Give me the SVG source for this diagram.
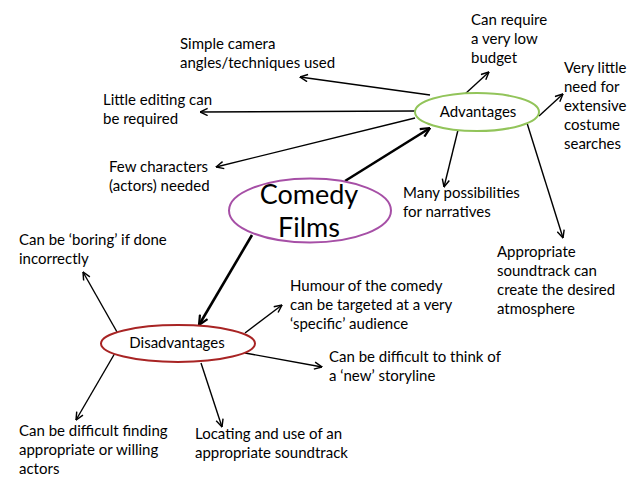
<svg xmlns="http://www.w3.org/2000/svg" width="638" height="479" viewBox="0 0 638 479">
<style>
text{font-family:Lato,"Open Sans","Liberation Sans",sans-serif;fill:#000}
.t{font-size:15px}
.arr{stroke:#000;stroke-width:1.4;fill:none;marker-end:url(#ah)}
.thick{stroke:#000;stroke-width:2.6;fill:none;marker-end:url(#ahb)}
</style>
<defs>
<marker id="ah" viewBox="0 0 10 10" refX="9.5" refY="5" markerWidth="9" markerHeight="9" markerUnits="userSpaceOnUse" orient="auto">
<path d="M1,1 L9.5,5 L1,9" fill="none" stroke="#000" stroke-width="1.6"/>
</marker>
<marker id="ahb" viewBox="0 0 10 10" refX="9.5" refY="5" markerWidth="11" markerHeight="11" markerUnits="userSpaceOnUse" orient="auto">
<path d="M1,1 L9.5,5 L1,9" fill="none" stroke="#000" stroke-width="2"/>
</marker>
</defs>
<rect width="638" height="479" fill="#fff"/>
<g id="connectors">
<line class="thick" x1="345" y1="181" x2="430" y2="128"/>
<line class="thick" x1="252" y1="235" x2="199" y2="325"/>
<line class="arr" x1="430" y1="95" x2="300" y2="77"/>
<line class="arr" x1="415" y1="111" x2="200" y2="112"/>
<line class="arr" x1="415" y1="118" x2="216" y2="167"/>
<line class="arr" x1="465" y1="94" x2="489" y2="72"/>
<line class="arr" x1="539" y1="116" x2="563" y2="94"/>
<line class="arr" x1="458" y1="130" x2="444" y2="187"/>
<line class="arr" x1="527" y1="123" x2="563" y2="238"/>
<line class="arr" x1="117" y1="332" x2="83" y2="272"/>
<line class="arr" x1="245" y1="333" x2="282" y2="305"/>
<line class="arr" x1="245" y1="353" x2="322" y2="367"/>
<line class="arr" x1="201" y1="363" x2="222" y2="427"/>
<line class="arr" x1="115" y1="353" x2="76" y2="420"/>
</g>
<g id="comedy-films">
<ellipse cx="310" cy="210.5" rx="81" ry="32" fill="#fff" stroke="#a64fa6" stroke-width="2"/>
<text x="309" y="204" font-size="27" text-anchor="middle">Comedy</text>
<text x="309" y="237" font-size="27" text-anchor="middle">Films</text>
</g>
<g id="advantages">
<ellipse cx="477" cy="112" rx="62" ry="19" fill="#fff" stroke="#92c45a" stroke-width="2"/>
<text class="t" x="478" y="117" text-anchor="middle">Advantages</text>
</g>
<g id="disadvantages">
<ellipse cx="178" cy="343.5" rx="77" ry="18.5" fill="#fff" stroke="#a82424" stroke-width="2"/>
<text class="t" x="177" y="348" text-anchor="middle">Disadvantages</text>
</g>
<g id="simple-camera"><text class="t" x="180"><tspan x="180" y="49">Simple camera</tspan><tspan x="180" y="68">angles/techniques used</tspan></text></g>
<g id="low-budget"><text class="t" x="471"><tspan x="471" y="25">Can require</tspan><tspan x="471" y="44">a very low</tspan><tspan x="471" y="63">budget</tspan></text></g>
<g id="costume"><text class="t" x="564"><tspan x="564" y="73">Very little</tspan><tspan x="564" y="92">need for</tspan><tspan x="564" y="111">extensive</tspan><tspan x="564" y="130">costume</tspan><tspan x="564" y="149">searches</tspan></text></g>
<g id="little-editing"><text class="t" x="103"><tspan x="103" y="105">Little editing can</tspan><tspan x="103" y="124">be required</tspan></text></g>
<g id="few-characters"><text class="t" x="109"><tspan x="109" y="172">Few characters</tspan><tspan x="109" y="191">(actors) needed</tspan></text></g>
<g id="narratives"><text class="t" x="403"><tspan x="403" y="198">Many possibilities</tspan><tspan x="403" y="217">for narratives</tspan></text></g>
<g id="soundtrack-adv"><text class="t" x="497"><tspan x="497" y="257">Appropriate</tspan><tspan x="497" y="276">soundtrack can</tspan><tspan x="497" y="295">create the desired</tspan><tspan x="497" y="314">atmosphere</tspan></text></g>
<g id="boring"><text class="t" x="19"><tspan x="19" y="245">Can be ‘boring’ if done</tspan><tspan x="19" y="264">incorrectly</tspan></text></g>
<g id="humour"><text class="t" x="290"><tspan x="290" y="291">Humour of the comedy</tspan><tspan x="290" y="310">can be targeted at a very</tspan><tspan x="290" y="329">‘specific’ audience</tspan></text></g>
<g id="storyline"><text class="t" x="329"><tspan x="329" y="362">Can be difficult to think of</tspan><tspan x="329" y="381">a ‘new’ storyline</tspan></text></g>
<g id="actors"><text class="t" x="19"><tspan x="19" y="436">Can be difficult finding</tspan><tspan x="19" y="455">appropriate or willing</tspan><tspan x="19" y="474">actors</tspan></text></g>
<g id="soundtrack-dis"><text class="t" x="195"><tspan x="195" y="439">Locating and use of an</tspan><tspan x="195" y="458">appropriate soundtrack</tspan></text></g>
</svg>
